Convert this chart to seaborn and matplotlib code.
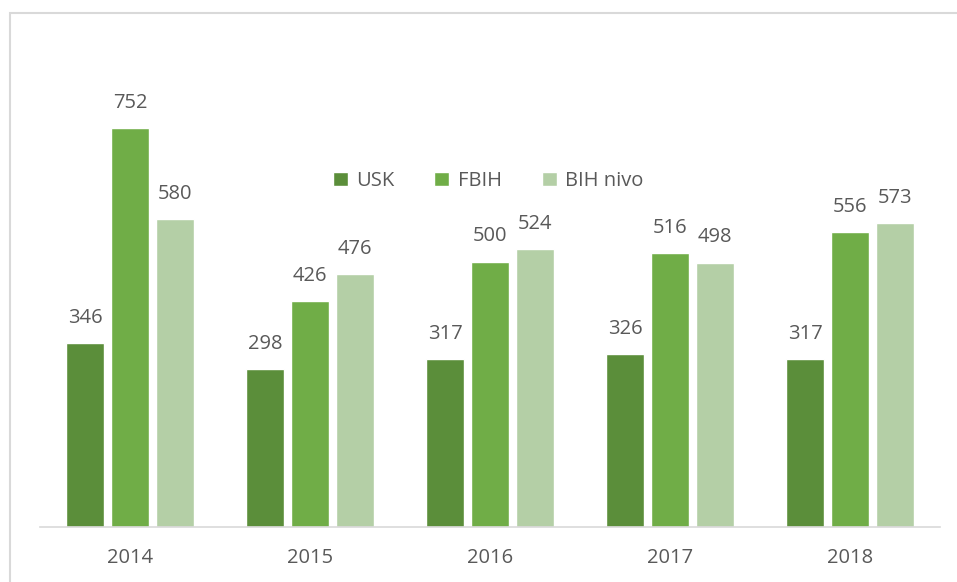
import matplotlib
matplotlib.use("Agg")
import matplotlib.pyplot as plt
import matplotlib.patches as mpatches
import pandas as pd
import seaborn as sns

years = ["2014", "2015", "2016", "2017", "2018"]
usk = [346, 298, 317, 326, 317]
fbih = [752, 426, 500, 516, 556]
bih = [580, 476, 524, 498, 573]
series = ["USK", "FBIH", "BIH nivo"]
colors = ["#5B8E3A", "#70AD47", "#B4CFA6"]

df = pd.DataFrame({
    "year": years * 3,
    "value": usk + fbih + bih,
    "series": [series[0]] * 5 + [series[1]] * 5 + [series[2]] * 5,
})

sns.set_style("white")
plt.rcParams["font.family"] = ["Open Sans", "DejaVu Sans"]

fig = plt.figure(figsize=(9.57, 5.82), dpi=100)
ax = fig.add_axes([40 / 957, 1 - 527 / 582, 900 / 957, 424.5 / 582])

sns.barplot(data=df, x="year", y="value", hue="series", palette=colors,
            width=0.75, gap=0.14, saturation=1, ax=ax, legend=True)

for c in ax.containers:
    ax.bar_label(c, padding=11, fontsize=14.5, color="#595959")

ax.set_ylim(0, 800)
ax.set_xlim(-0.5, 4.5)
ax.set_xlabel("")
ax.set_ylabel("")
ax.set_yticks([])
for s in ["top", "right", "left"]:
    ax.spines[s].set_visible(False)
ax.spines["bottom"].set_color("#D9D9D9")
ax.spines["bottom"].set_linewidth(1.2)
ax.tick_params(axis="x", length=0, labelsize=14.5, labelcolor="#595959", pad=15)

ax.legend(loc="center", bbox_to_anchor=(488 / 957, 1 - 181 / 582),
          bbox_transform=fig.transFigure, ncol=3, frameon=False,
          fontsize=14.5, labelcolor="#595959", handlelength=0.75, handleheight=0.75,
          columnspacing=2.0, handletextpad=0.4)

border = mpatches.Rectangle((10 / 957, -0.1), 0.995 - 10 / 957 + 0.1, 1 - 13 / 582 + 0.1,
                            transform=fig.transFigure, fill=False,
                            edgecolor="#D9D9D9", linewidth=1.5)
fig.patches.append(border)

fig.savefig("out.png", dpi=100)
